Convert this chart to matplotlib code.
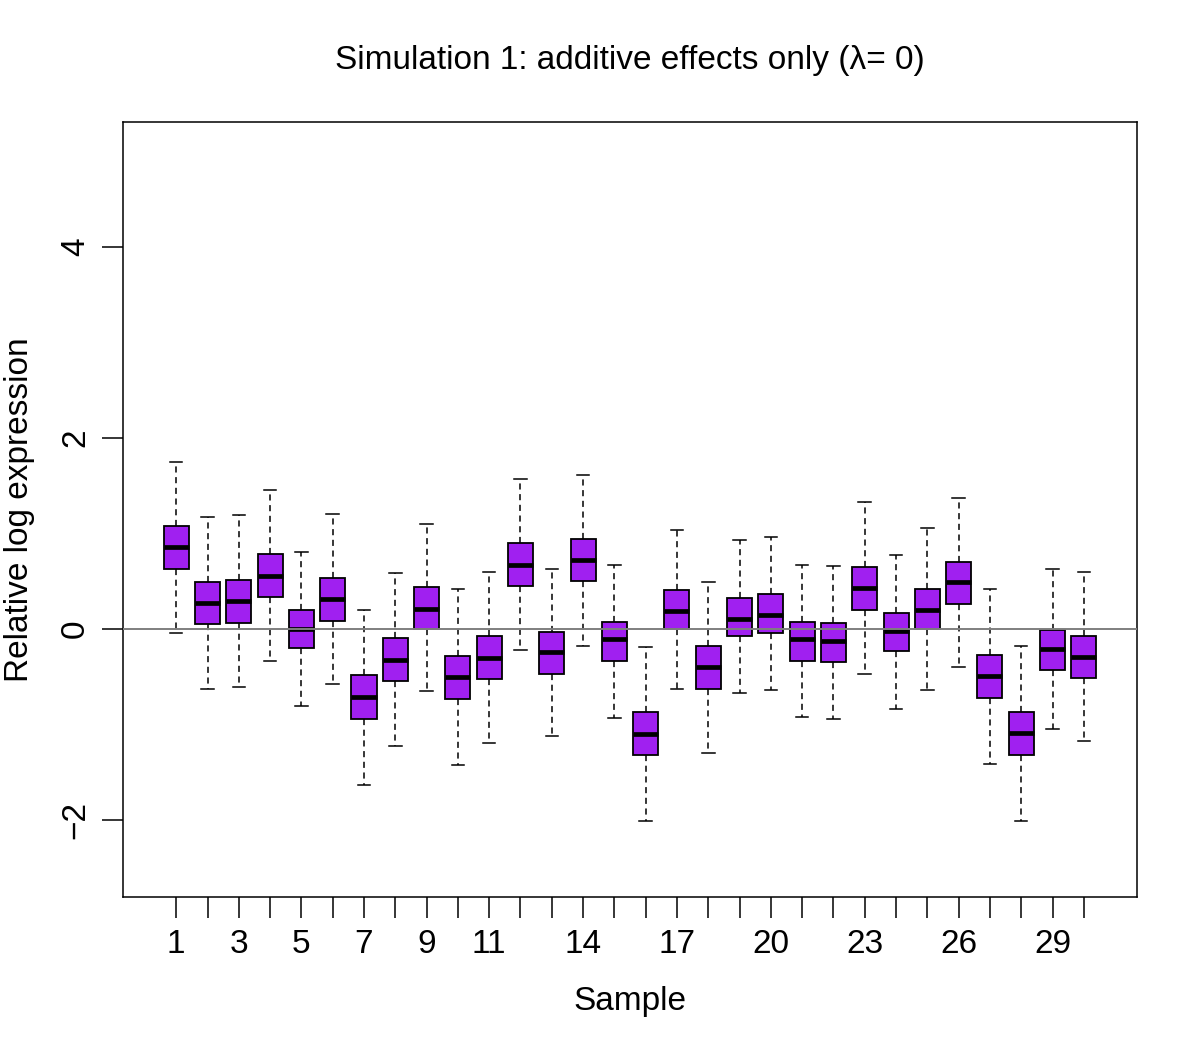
import matplotlib
matplotlib.use("Agg")
import matplotlib.pyplot as plt

plt.rcParams['font.family'] = ['Liberation Sans', 'DejaVu Sans']

samples = list(range(1, 31))
whisker_hi = [1.75, 1.17, 1.19, 1.455, 0.80, 1.20, 0.196, 0.583, 1.096, 0.412,
              0.594, 1.567, 0.628, 1.616, 0.670, -0.192, 1.033, 0.489, 0.928, 0.967,
              0.673, 0.66, 1.327, 0.771, 1.058, 1.372, 0.419, -0.185, 0.625, 0.594]
q3 = [1.082, 0.495, 0.516, 0.785, 0.199, 0.537, -0.489, -0.101, 0.44, -0.283,
      -0.08, 0.897, -0.035, 0.942, 0.07, -0.876, 0.405, -0.185, 0.325, 0.363,
      0.07, 0.06, 0.649, 0.168, 0.422, 0.705, -0.272, -0.872, -0.014, -0.073]
medians = [0.859, 0.269, 0.293, 0.558, 0.0, 0.314, -0.719, -0.325, 0.209, -0.51,
           -0.304, 0.673, -0.248, 0.723, -0.105, -1.099, 0.182, -0.405, 0.105, 0.147,
           -0.105, -0.126, 0.426, -0.028, 0.199, 0.489, -0.499, -1.096, -0.209, -0.293]
q1 = [0.631, 0.049, 0.066, 0.335, -0.202, 0.084, -0.946, -0.551, 0.003, -0.74,
      -0.527, 0.45, -0.475, 0.496, -0.332, -1.326, -0.007, -0.632, -0.077, -0.042,
      -0.332, -0.346, 0.199, -0.234, 0.003, 0.262, -0.726, -1.326, -0.429, -0.516]
whisker_lo = [-0.04, -0.632, -0.607, -0.332, -0.806, -0.583, -1.633, -1.232, -0.653, -1.431,
              -1.20, -0.223, -1.127, -0.178, -0.932, -2.01, -0.635, -1.305, -0.674, -0.642,
              -0.925, -0.946, -0.475, -0.841, -0.639, -0.401, -1.414, -2.01, -1.05, -1.18]
xtick_labels = ['1', '3', '5', '7', '9', '11', '14', '17', '20', '23', '26', '29']
ytick_values = [-2, 0, 2, 4]

fig = plt.figure(figsize=(12, 10.5), dpi=100)
ax = fig.add_axes([0.1025, 0.1457, 0.845, 0.7381])

stats = []
for i in range(len(samples)):
    stats.append(dict(med=medians[i], q1=q1[i], q3=q3[i],
                      whislo=whisker_lo[i], whishi=whisker_hi[i], fliers=[]))

ax.bxp(stats, positions=samples, widths=0.8, patch_artist=True,
       showfliers=False,
       boxprops=dict(facecolor='#A020F0', edgecolor='black', linewidth=1.3),
       medianprops=dict(color='black', linewidth=3.4, solid_capstyle='butt'),
       whiskerprops=dict(color='black', linewidth=1.1, linestyle=(0, (4, 3))),
       capprops=dict(color='black', linewidth=1.1),
       capwidths=0.4)

ax.axhline(0, color='#7f7f7f', linewidth=1.4, zorder=5)

ax.set_xlim(-0.7, 31.7)
ax.set_ylim(-2.81, 5.31)

ax.set_xticks(samples)
labels = []
for s in samples:
    labels.append(str(s) if str(s) in xtick_labels else '')
ax.set_xticklabels(labels, fontsize=24)
ax.set_yticks(ytick_values)
ax.set_yticklabels([str(v).replace('-', '\u2212') for v in ytick_values],
                   fontsize=24, rotation=90, va='center')
ax.tick_params(axis='both', direction='out', length=15, width=1.1, pad=8)

for sp in ax.spines.values():
    sp.set_linewidth(1.1)

ax.set_xlabel('Sample', fontsize=24, labelpad=19)
ax.set_ylabel('Relative log expression', fontsize=24, labelpad=18)
fig.text(0.5245, 1 - 61 / 1050, 'Simulation 1: additive effects only (\u03bb= 0)',
         fontsize=24, ha='center', va='center')

fig.savefig('out.png', dpi=100)
